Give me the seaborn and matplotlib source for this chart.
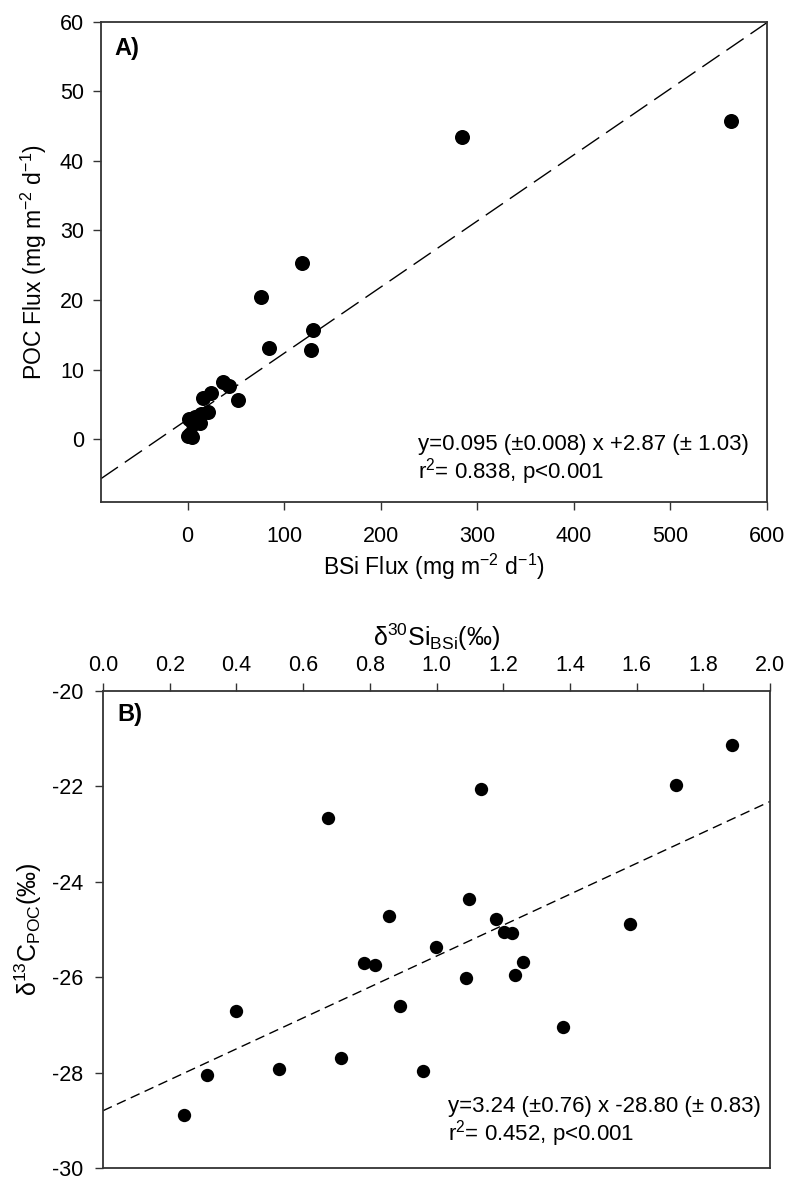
import numpy as np
import pandas as pd
import matplotlib
matplotlib.use("Agg")
import matplotlib.pyplot as plt
import seaborn as sns

# Panel A data: BSi flux vs POC flux (mg m-2 d-1)
bsi_flux = [563, 284, 118, 76, 84, 130, 128, 36.6, 42.5, 52, 24.5, 15.9,
            21, 14.2, 7.3, 1.0, 12.4, 5.5, 2.0, 0.3, 5.0]
poc_flux = [45.7, 43.4, 25.3, 20.4, 13.1, 15.7, 12.8, 8.2, 7.7, 5.7, 6.6, 6.0,
            3.9, 3.7, 3.2, 2.9, 2.4, 2.2, 0.8, 0.5, 0.4]
fit_a = (0.095, 2.87)

# Panel B data: d30Si BSi vs d13C POC (permil)
d30si = [0.242, 0.313, 0.400, 0.527, 0.676, 0.713, 0.782, 0.817, 0.857, 0.890,
         0.960, 0.998, 1.133, 1.098, 1.178, 1.202, 1.225, 1.088, 1.259, 1.235,
         1.581, 1.378, 1.719, 1.885]
d13c = [-28.88, -28.06, -26.72, -27.93, -22.67, -27.69, -25.70, -25.74, -24.71,
        -26.60, -27.97, -25.37, -22.06, -24.37, -24.78, -25.05, -25.07, -26.01,
        -25.69, -25.95, -24.88, -27.05, -21.98, -21.13]
fit_b = (3.24, -28.80)

sns.set_theme(style="ticks")
plt.rcParams["font.family"] = ["Liberation Sans", "DejaVu Sans"]
plt.rcParams["mathtext.fontset"] = "custom"
plt.rcParams["mathtext.rm"] = "Liberation Sans"
plt.rcParams["mathtext.it"] = "Liberation Sans:italic"
plt.rcParams["mathtext.bf"] = "Liberation Sans:bold"
plt.rcParams["axes.unicode_minus"] = False
plt.rcParams["text.color"] = "black"
plt.rcParams["axes.labelcolor"] = "black"
plt.rcParams["xtick.color"] = "black"
plt.rcParams["ytick.color"] = "black"

spine_col = "#333333"
tick_fs = 15.5
note_fs = 16
fig = plt.figure(figsize=(7.87, 11.78), dpi=100)

# ---- Panel A ----
ax1 = fig.add_axes([0.128, 0.5739, 0.8466, 0.4077])
df_a = pd.DataFrame({"bsi": bsi_flux, "poc": poc_flux})
sns.scatterplot(data=df_a, x="bsi", y="poc", ax=ax1, color="black",
                s=117, linewidth=0, zorder=3)
ax1.axline((0, fit_a[1]), slope=fit_a[0], color="black", lw=1.0,
           dashes=(15, 6), zorder=2)
ax1.set_xlim(-90, 600)
ax1.set_ylim(-9, 60)
ax1.set_xticks(np.arange(0, 601, 100))
ax1.set_yticks(np.arange(0, 61, 10))
ax1.set_xlabel("BSi Flux (mg m$^{-2}$ d$^{-1}$)", fontsize=16.5, labelpad=4)
ax1.set_ylabel("POC Flux (mg m$^{-2}$ d$^{-1}$)", fontsize=16.5, labelpad=8)
ax1.tick_params(axis="x", labelsize=tick_fs, length=6, width=1, pad=11, color=spine_col)
ax1.tick_params(axis="y", labelsize=tick_fs, length=6, width=1, pad=6, color=spine_col)
ax1.text(0.021, 0.968, "A)", transform=ax1.transAxes, fontsize=17,
         fontweight="bold", va="top", ha="left")
ax1.text(0.476, 0.119, "y=0.095 (\u00b10.008) x +2.87 (\u00b1 1.03)",
         transform=ax1.transAxes, fontsize=note_fs, va="center", ha="left")
ax1.text(0.476, 0.0625, "r$^2$= 0.838, p<0.001",
         transform=ax1.transAxes, fontsize=note_fs, va="center", ha="left")

# ---- Panel B ----
ax2 = fig.add_axes([0.1309, 0.0085, 0.8475, 0.4051])
df_b = pd.DataFrame({"si": d30si, "c": d13c})
sns.scatterplot(data=df_b, x="si", y="c", ax=ax2, color="black",
                s=92, linewidth=0, zorder=3)
ax2.axline((0, fit_b[1]), slope=fit_b[0], color="black", lw=1.0,
           dashes=(7, 4), zorder=2)
ax2.set_xlim(0, 2.0)
ax2.set_ylim(-30, -20)
ax2.set_xticks(np.round(np.arange(0, 2.01, 0.2), 1))
ax2.set_xticklabels([f"{v:.1f}" for v in np.arange(0, 2.01, 0.2)])
ax2.set_yticks(np.arange(-30, -19, 2))
ax2.xaxis.tick_top()
ax2.xaxis.set_label_position("top")
ax2.set_xlabel("\u03b4$^{30}$Si$_{\\mathrm{BSi}}$(\u2030)", fontsize=18, labelpad=6)
ax2.set_ylabel("\u03b4$^{13}$C$_{\\mathrm{POC}}$(\u2030)", fontsize=18, labelpad=6)
ax2.tick_params(axis="x", labelsize=tick_fs, length=6, width=1, pad=5, color=spine_col)
ax2.tick_params(axis="y", labelsize=tick_fs, length=6, width=1, pad=8, color=spine_col)
ax2.text(0.022, 0.975, "B)", transform=ax2.transAxes, fontsize=17,
         fontweight="bold", va="top", ha="left")
ax2.text(0.517, 0.129, "y=3.24 (\u00b10.76) x -28.80 (\u00b1 0.83)",
         transform=ax2.transAxes, fontsize=note_fs, va="center", ha="left")
ax2.text(0.517, 0.072, "r$^2$= 0.452, p<0.001",
         transform=ax2.transAxes, fontsize=note_fs, va="center", ha="left")

for ax in (ax1, ax2):
    for sp in ax.spines.values():
        sp.set_visible(True)
        sp.set_color(spine_col)
        sp.set_linewidth(1.3)

fig.savefig("out.png", dpi=100)
